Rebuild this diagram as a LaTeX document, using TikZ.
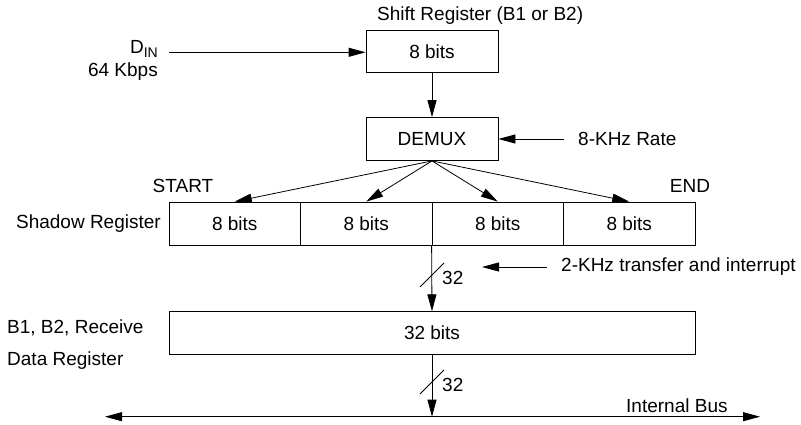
\documentclass[tikz,border=0pt]{standalone}
\usepackage{fontspec}
\setmainfont{Liberation Sans}
\usetikzlibrary{arrows.meta,positioning}

\begin{document}
\begin{tikzpicture}[x=1pt,y=-1pt,font=\fontsize{19}{23}\selectfont,
 box/.style={draw,minimum height=42pt,inner sep=0pt,line width=0.8pt},
 lbl/.style={inner sep=0pt},
 arr/.style={-{Triangle[length=17pt,width=9pt]},line width=0.8pt}]
\useasboundingbox (0,0) rectangle (801,425);
% registers
\node[box,minimum width=132pt] (sr) at (432,51.7) {8 bits};
\node[box,minimum width=132pt,minimum height=43pt] (dm) at (432,139) {DEMUX};
\foreach \i/\x in {1/234.75,2/366.25,3/497.75,4/629.25}
  \node[box,minimum width=131.5pt,minimum height=43pt] (sh\i) at (\x,223.5) {8 bits};
\node[box,minimum width=526pt,minimum height=42.6pt] (rx) at (432,333) {32 bits};
% labels
\node[lbl,anchor=base east] (din) at (158,53.5) {D\raisebox{-4pt}{\fontsize{14}{14}\selectfont IN}};
\node[lbl,anchor=base east] (kbps) at (158,77) {64 Kbps};
\node[lbl,anchor=west] (srlbl) at (377,16) {Shift Register (B1 or B2)};
\node[lbl,anchor=west] (rate8) at (578,139) {8-KHz Rate};
\node[lbl] (start) at (183,186) {START};
\node[lbl] (end) at (690,186) {END};
\node[lbl,anchor=east] (shlbl) at (161,224) {Shadow Register};
\node[lbl,anchor=west] (rate2) at (561,267) {2-KHz transfer and interrupt};
\node[lbl,anchor=west] (rxlbl1) at (7,328) {B1, B2, Receive};
\node[lbl,anchor=west] (rxlbl2) at (7,361) {Data Register};
\node[lbl,anchor=west] (buslbl) at (626,406) {Internal Bus};
\node[lbl,anchor=west] (w1) at (442,278) {32};
\node[lbl,anchor=west] (w2) at (442,385) {32};
% connectors
\coordinate (dinend) at (169,52.3);
\coordinate (r8end) at (564,139);
\coordinate (r2a) at (547,267);
\coordinate (r2b) at (482,267);
\coordinate (busL) at (105,416.7);
\coordinate (busR) at (760,416.7);
\draw[arr] (dinend) -- (sr.west |- dinend);
\draw[arr] (sr.south) -- (dm.north);
\draw[arr] (r8end) -- (dm.east);
\foreach \i in {1,...,4}
  \draw[arr] (dm.south) -- (sh\i.north);
\draw[arr] (sh3.south west) -- (rx.north);
\draw[arr] (r2a) -- (r2b);
\draw[arr] (rx.south) -- (rx.south |- busL);
\draw[{Triangle[length=17pt,width=9pt]}-{Triangle[length=17pt,width=9pt]},line width=0.8pt] (busL) -- (busR);
% bus width marks
\draw[line width=0.8pt] (420,287) -- (444,263);
\draw[line width=0.8pt] (420,394) -- (444,370);
\end{tikzpicture}
\end{document}
